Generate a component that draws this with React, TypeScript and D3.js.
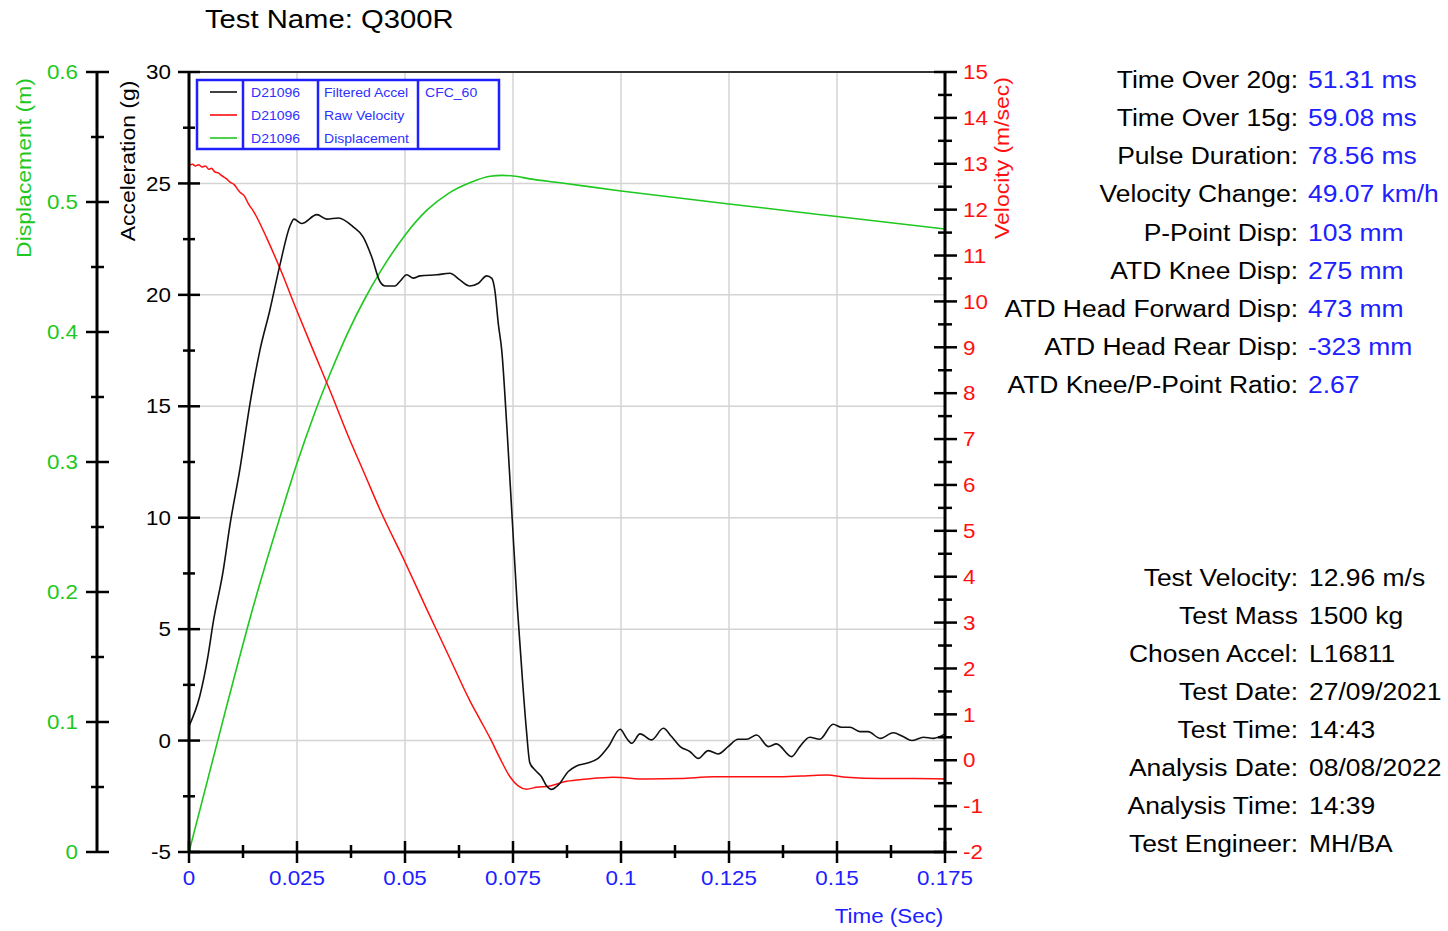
import React from "react";
import * as d3 from "d3";

// ---------- data ----------
const accelTime = [0, 0.0025, 0.0044, 0.0056, 0.0079, 0.0095, 0.0118, 0.0141, 0.0164, 0.0187, 0.021, 0.0234, 0.0243, 0.0261, 0.0296, 0.0319, 0.0346, 0.038, 0.0403, 0.0423, 0.0442, 0.0454, 0.0477, 0.0488, 0.0504, 0.0519, 0.0535, 0.0573, 0.0604, 0.0627, 0.065, 0.067, 0.0689, 0.0701, 0.0708, 0.0716, 0.0724, 0.0736, 0.0748, 0.076, 0.0772, 0.0781, 0.0789, 0.0801, 0.0816, 0.0828, 0.0839, 0.0855, 0.0878, 0.0897, 0.092, 0.0947, 0.0971, 0.0998, 0.1013, 0.1025, 0.1044, 0.1071, 0.1098, 0.1117, 0.1137, 0.116, 0.1179, 0.1202, 0.1225, 0.1248, 0.1271, 0.1291, 0.1314, 0.1341, 0.136, 0.1395, 0.1414, 0.1437, 0.146, 0.1491, 0.151, 0.153, 0.1553, 0.1572, 0.16, 0.163, 0.1653, 0.1673, 0.17, 0.1723, 0.175];
const accelValues = [0.65, 2.0, 3.8, 5.3, 7.6, 9.7, 12.2, 15.1, 17.5, 19.3, 21.3, 23.1, 23.4, 23.2, 23.6, 23.4, 23.45, 23.05, 22.6, 21.7, 20.6, 20.4, 20.4, 20.6, 20.9, 20.75, 20.85, 20.9, 20.97, 20.67, 20.4, 20.52, 20.85, 20.74, 20.2, 18.7, 17.5, 14.0, 10.0, 6.0, 2.7, 0.48, -1.0, -1.32, -1.62, -2.04, -2.19, -1.99, -1.39, -1.14, -1.02, -0.8, -0.27, 0.51, 0.1, -0.12, 0.3, 0.03, 0.55, 0.18, -0.27, -0.5, -0.8, -0.45, -0.6, -0.27, 0.06, 0.06, 0.25, -0.27, -0.15, -0.72, -0.27, 0.15, 0.06, 0.73, 0.6, 0.6, 0.4, 0.4, 0.1, 0.35, 0.18, 0.0, 0.15, 0.1, 0.3];

const velTime = [0, 0.0008, 0.0015, 0.0022, 0.003, 0.0038, 0.0046, 0.0052, 0.006, 0.0068, 0.0076, 0.0087, 0.0095, 0.0104, 0.0118, 0.0128, 0.0138, 0.0149, 0.018, 0.0211, 0.025, 0.0289, 0.0328, 0.0367, 0.0406, 0.0444, 0.05, 0.055, 0.06, 0.065, 0.0674, 0.0697, 0.072, 0.0743, 0.0762, 0.0781, 0.0804, 0.0836, 0.0874, 0.092, 0.0982, 0.1059, 0.1137, 0.1214, 0.1291, 0.1368, 0.1445, 0.1476, 0.1522, 0.16, 0.1677, 0.175];
const velValues = [12.96, 12.99, 12.95, 12.98, 12.93, 12.95, 12.88, 12.9, 12.82, 12.8, 12.74, 12.67, 12.6, 12.55, 12.38, 12.3, 12.12, 11.97, 11.38, 10.71, 9.79, 8.9, 8.02, 7.1, 6.25, 5.42, 4.32, 3.3, 2.3, 1.3, 0.88, 0.48, 0.04, -0.36, -0.56, -0.63, -0.59, -0.56, -0.46, -0.41, -0.37, -0.41, -0.4, -0.36, -0.36, -0.36, -0.33, -0.32, -0.37, -0.4, -0.4, -0.41];

const dispTime = [0, 0.0087, 0.0149, 0.0211, 0.025, 0.0289, 0.0328, 0.0367, 0.0406, 0.0444, 0.05, 0.055, 0.06, 0.065, 0.0697, 0.0725, 0.0751, 0.0789, 0.0859, 0.1, 0.125, 0.15, 0.175];
const dispValues = [0, 0.112, 0.189, 0.258, 0.299, 0.336, 0.369, 0.399, 0.425, 0.447, 0.4745, 0.4935, 0.5065, 0.5148, 0.5198, 0.5205, 0.52, 0.5178, 0.5148, 0.5085, 0.4985, 0.4888, 0.4792];

const timeTicks = [0, 0.025, 0.05, 0.075, 0.1, 0.125, 0.15, 0.175];
const timeLabels = ["0", "0.025", "0.05", "0.075", "0.1", "0.125", "0.15", "0.175"];
const accTicks = [-5, 0, 5, 10, 15, 20, 25, 30];
const velTicks = [-2, -1, 0, 1, 2, 3, 4, 5, 6, 7, 8, 9, 10, 11, 12, 13, 14, 15];
const dispTicks = [0, 0.1, 0.2, 0.3, 0.4, 0.5, 0.6];

const legendIds = ["D21096", "D21096", "D21096"];
const legendNames = ["Filtered Accel", "Raw Velocity", "Displacement"];
const legendFilter = ["CFC_60", "", ""];

const statLabels = ["Time Over 20g:", "Time Over 15g:", "Pulse Duration:", "Velocity Change:", "P-Point Disp:", "ATD Knee Disp:", "ATD Head Forward Disp:", "ATD Head Rear Disp:", "ATD Knee/P-Point Ratio:"];
const statValues = ["51.31 ms", "59.08 ms", "78.56 ms", "49.07 km/h", "103 mm", "275 mm", "473 mm", "-323 mm", "2.67"];
const infoLabels = ["Test Velocity:", "Test Mass", "Chosen Accel:", "Test Date:", "Test Time:", "Analysis Date:", "Analysis Time:", "Test Engineer:"];
const infoValues = ["12.96 m/s", "1500 kg", "L16811", "27/09/2021", "14:43", "08/08/2022", "14:39", "MH/BA"];

// ---------- style ----------
const FONT = "'Liberation Sans', Arial, sans-serif";
const GREEN = "#1ec81e";
const RED = "#ff1010";
const BLUE = "#2020ff";
const GRID = "#d4d4d4";

function T({ x, y, children, size = 20, fill = "#000", anchor = "start", rotate = 0, sx = 1.12, center = true }: any) {
  return (
    <text
      transform={`translate(${x},${y}) rotate(${rotate}) scale(${sx},1)`}
      fontSize={size}
      fill={fill}
      textAnchor={anchor}
      dy={center ? "0.36em" : undefined}
      fontFamily={FONT}
    >
      {children}
    </text>
  );
}

export default function App() {
  const x = d3.scaleLinear().domain([0, 0.175]).range([189, 945]);
  const yAcc = d3.scaleLinear().domain([-5, 30]).range([852, 72]);
  const yVel = d3.scaleLinear().domain([-2, 15]).range([852, 72]);
  const yDisp = d3.scaleLinear().domain([0, 0.6]).range([852, 72]);

  const mk = (ts: number[], vs: number[], ys: any) =>
    d3
      .line<number>()
      .x((_, i) => x(ts[i]))
      .y((v) => ys(v))
      .curve(d3.curveMonotoneX)(vs) as string;

  const accPath = mk(accelTime, accelValues, yAcc);
  const velPath = mk(velTime, velValues, yVel);
  const dispPath = mk(dispTime, dispValues, yDisp);

  const mids = (arr: number[]) => arr.slice(0, -1).map((v, i) => (v + arr[i + 1]) / 2);

  const x0 = 189, x1 = 945, yTop = 72, yBot = 852, xDisp = 97;

  return (
    <svg width={1448} height={931} style={{ position: "absolute", left: 0, top: 0, background: "#fff" }}>
      <rect x={0} y={0} width={1448} height={931} fill="#fff" />
      {/* grid */}
      {timeTicks.slice(1, -1).map((t) => (
        <line key={"gx" + t} x1={x(t)} x2={x(t)} y1={yTop} y2={yBot} stroke={GRID} strokeWidth={1.5} />
      ))}
      {accTicks.slice(1, -1).map((a) => (
        <line key={"gy" + a} x1={x0} x2={x1} y1={yAcc(a)} y2={yAcc(a)} stroke={GRID} strokeWidth={1.5} />
      ))}
      {/* top frame */}
      <line x1={x0} x2={x1} y1={yTop} y2={yTop} stroke="#333" strokeWidth={2} />

      {/* curves */}
      <path d={dispPath} fill="none" stroke={GREEN} strokeWidth={1.6} />
      <path d={velPath} fill="none" stroke={RED} strokeWidth={1.5} />
      <path d={accPath} fill="none" stroke="#111" strokeWidth={1.6} />

      {/* displacement axis */}
      <line x1={xDisp} x2={xDisp} y1={yTop} y2={yBot} stroke="#000" strokeWidth={3} />
      {dispTicks.map((d) => (
        <g key={"dt" + d}>
          <line x1={xDisp - 11} x2={xDisp + 12} y1={yDisp(d)} y2={yDisp(d)} stroke="#000" strokeWidth={2.5} />
          <T x={78} y={yDisp(d)} anchor="end" fill={GREEN}>{String(d)}</T>
        </g>
      ))}
      {mids(dispTicks).map((d) => (
        <line key={"dm" + d} x1={xDisp - 6} x2={xDisp + 7} y1={yDisp(d)} y2={yDisp(d)} stroke="#000" strokeWidth={2.5} />
      ))}
      <T x={24} y={168} anchor="middle" rotate={-90} size={20.5} fill={GREEN}>Displacement (m)</T>

      {/* acceleration axis */}
      <line x1={x0} x2={x0} y1={yTop} y2={yBot} stroke="#000" strokeWidth={3} />
      {accTicks.map((a) => (
        <g key={"at" + a}>
          <line x1={x0 - 11} x2={x0 + 11} y1={yAcc(a)} y2={yAcc(a)} stroke="#000" strokeWidth={2.5} />
          <T x={171} y={yAcc(a)} anchor="end">{String(a)}</T>
        </g>
      ))}
      {mids(accTicks).map((a) => (
        <line key={"am" + a} x1={x0 - 6} x2={x0 + 6} y1={yAcc(a)} y2={yAcc(a)} stroke="#000" strokeWidth={2.5} />
      ))}
      <T x={128} y={161} anchor="middle" rotate={-90} size={20.5}>Acceleration (g)</T>

      {/* velocity axis */}
      <line x1={x1} x2={x1} y1={yTop} y2={yBot} stroke="#000" strokeWidth={3} />
      {velTicks.map((v) => (
        <g key={"vt" + v}>
          <line x1={x1 - 11} x2={x1 + 12} y1={yVel(v)} y2={yVel(v)} stroke="#000" strokeWidth={2.5} />
          <T x={963} y={yVel(v)} anchor="start" fill={RED}>{String(v)}</T>
        </g>
      ))}
      {mids(velTicks).map((v) => (
        <line key={"vm" + v} x1={x1 - 7} x2={x1 + 7} y1={yVel(v)} y2={yVel(v)} stroke="#000" strokeWidth={2.5} />
      ))}
      <T x={1002} y={158} anchor="middle" rotate={-90} size={20.5} fill={RED}>Velocity (m/sec)</T>

      {/* time axis */}
      <line x1={x0} x2={x1} y1={yBot} y2={yBot} stroke="#000" strokeWidth={3} />
      {timeTicks.map((t, i) => (
        <g key={"tt" + t}>
          <line x1={x(t)} x2={x(t)} y1={yBot - 11} y2={yBot + 11} stroke="#000" strokeWidth={2.5} />
          <T x={x(t)} y={878} anchor="middle" fill={BLUE}>{timeLabels[i]}</T>
        </g>
      ))}
      {mids(timeTicks).map((t) => (
        <line key={"tm" + t} x1={x(t)} x2={x(t)} y1={yBot - 7} y2={yBot + 6} stroke="#000" strokeWidth={2.5} />
      ))}
      <T x={889} y={916} anchor="middle" size={20} fill={BLUE}>Time (Sec)</T>

      {/* title */}
      <T x={205} y={28} size={25} sx={1.17} center={false}>Test Name: Q300R</T>

      {/* legend */}
      <rect x={197} y={80} width={302} height={69} fill="#fff" stroke={BLUE} strokeWidth={2.5} />
      {[243, 318, 418].map((lx) => (
        <line key={"lg" + lx} x1={lx} x2={lx} y1={80} y2={149} stroke={BLUE} strokeWidth={2.5} />
      ))}
      {legendNames.map((n, i) => {
        const ly = 92 + i * 23;
        const c = ["#111", RED, GREEN][i];
        return (
          <g key={"lr" + i}>
            <line x1={210} x2={237} y1={ly} y2={ly} stroke={c} strokeWidth={1.6} />
            <T x={251} y={ly} size={13} sx={1.08} fill="#3030ff">{legendIds[i]}</T>
            <T x={324} y={ly} size={13} sx={1.08} fill="#3030ff">{n}</T>
            {legendFilter[i] && <T x={425} y={ly} size={13} sx={1.08} fill="#3030ff">{legendFilter[i]}</T>}
          </g>
        );
      })}

      {/* statistics */}
      {statLabels.map((l, i) => {
        const by = 87.8 + i * 38.2;
        return (
          <g key={"st" + i}>
            <T x={1298} y={by} size={24.5} sx={1.08} anchor="end" center={false}>{l}</T>
            <T x={1308} y={by} size={24.5} sx={1.08} fill={BLUE} center={false}>{statValues[i]}</T>
          </g>
        );
      })}
      {infoLabels.map((l, i) => {
        const by = 585.5 + i * 38.1;
        return (
          <g key={"in" + i}>
            <T x={1298} y={by} size={24.5} sx={1.08} anchor="end" center={false}>{l}</T>
            <T x={1309} y={by} size={24.5} sx={1.08} center={false}>{infoValues[i]}</T>
          </g>
        );
      })}
    </svg>
  );
}
